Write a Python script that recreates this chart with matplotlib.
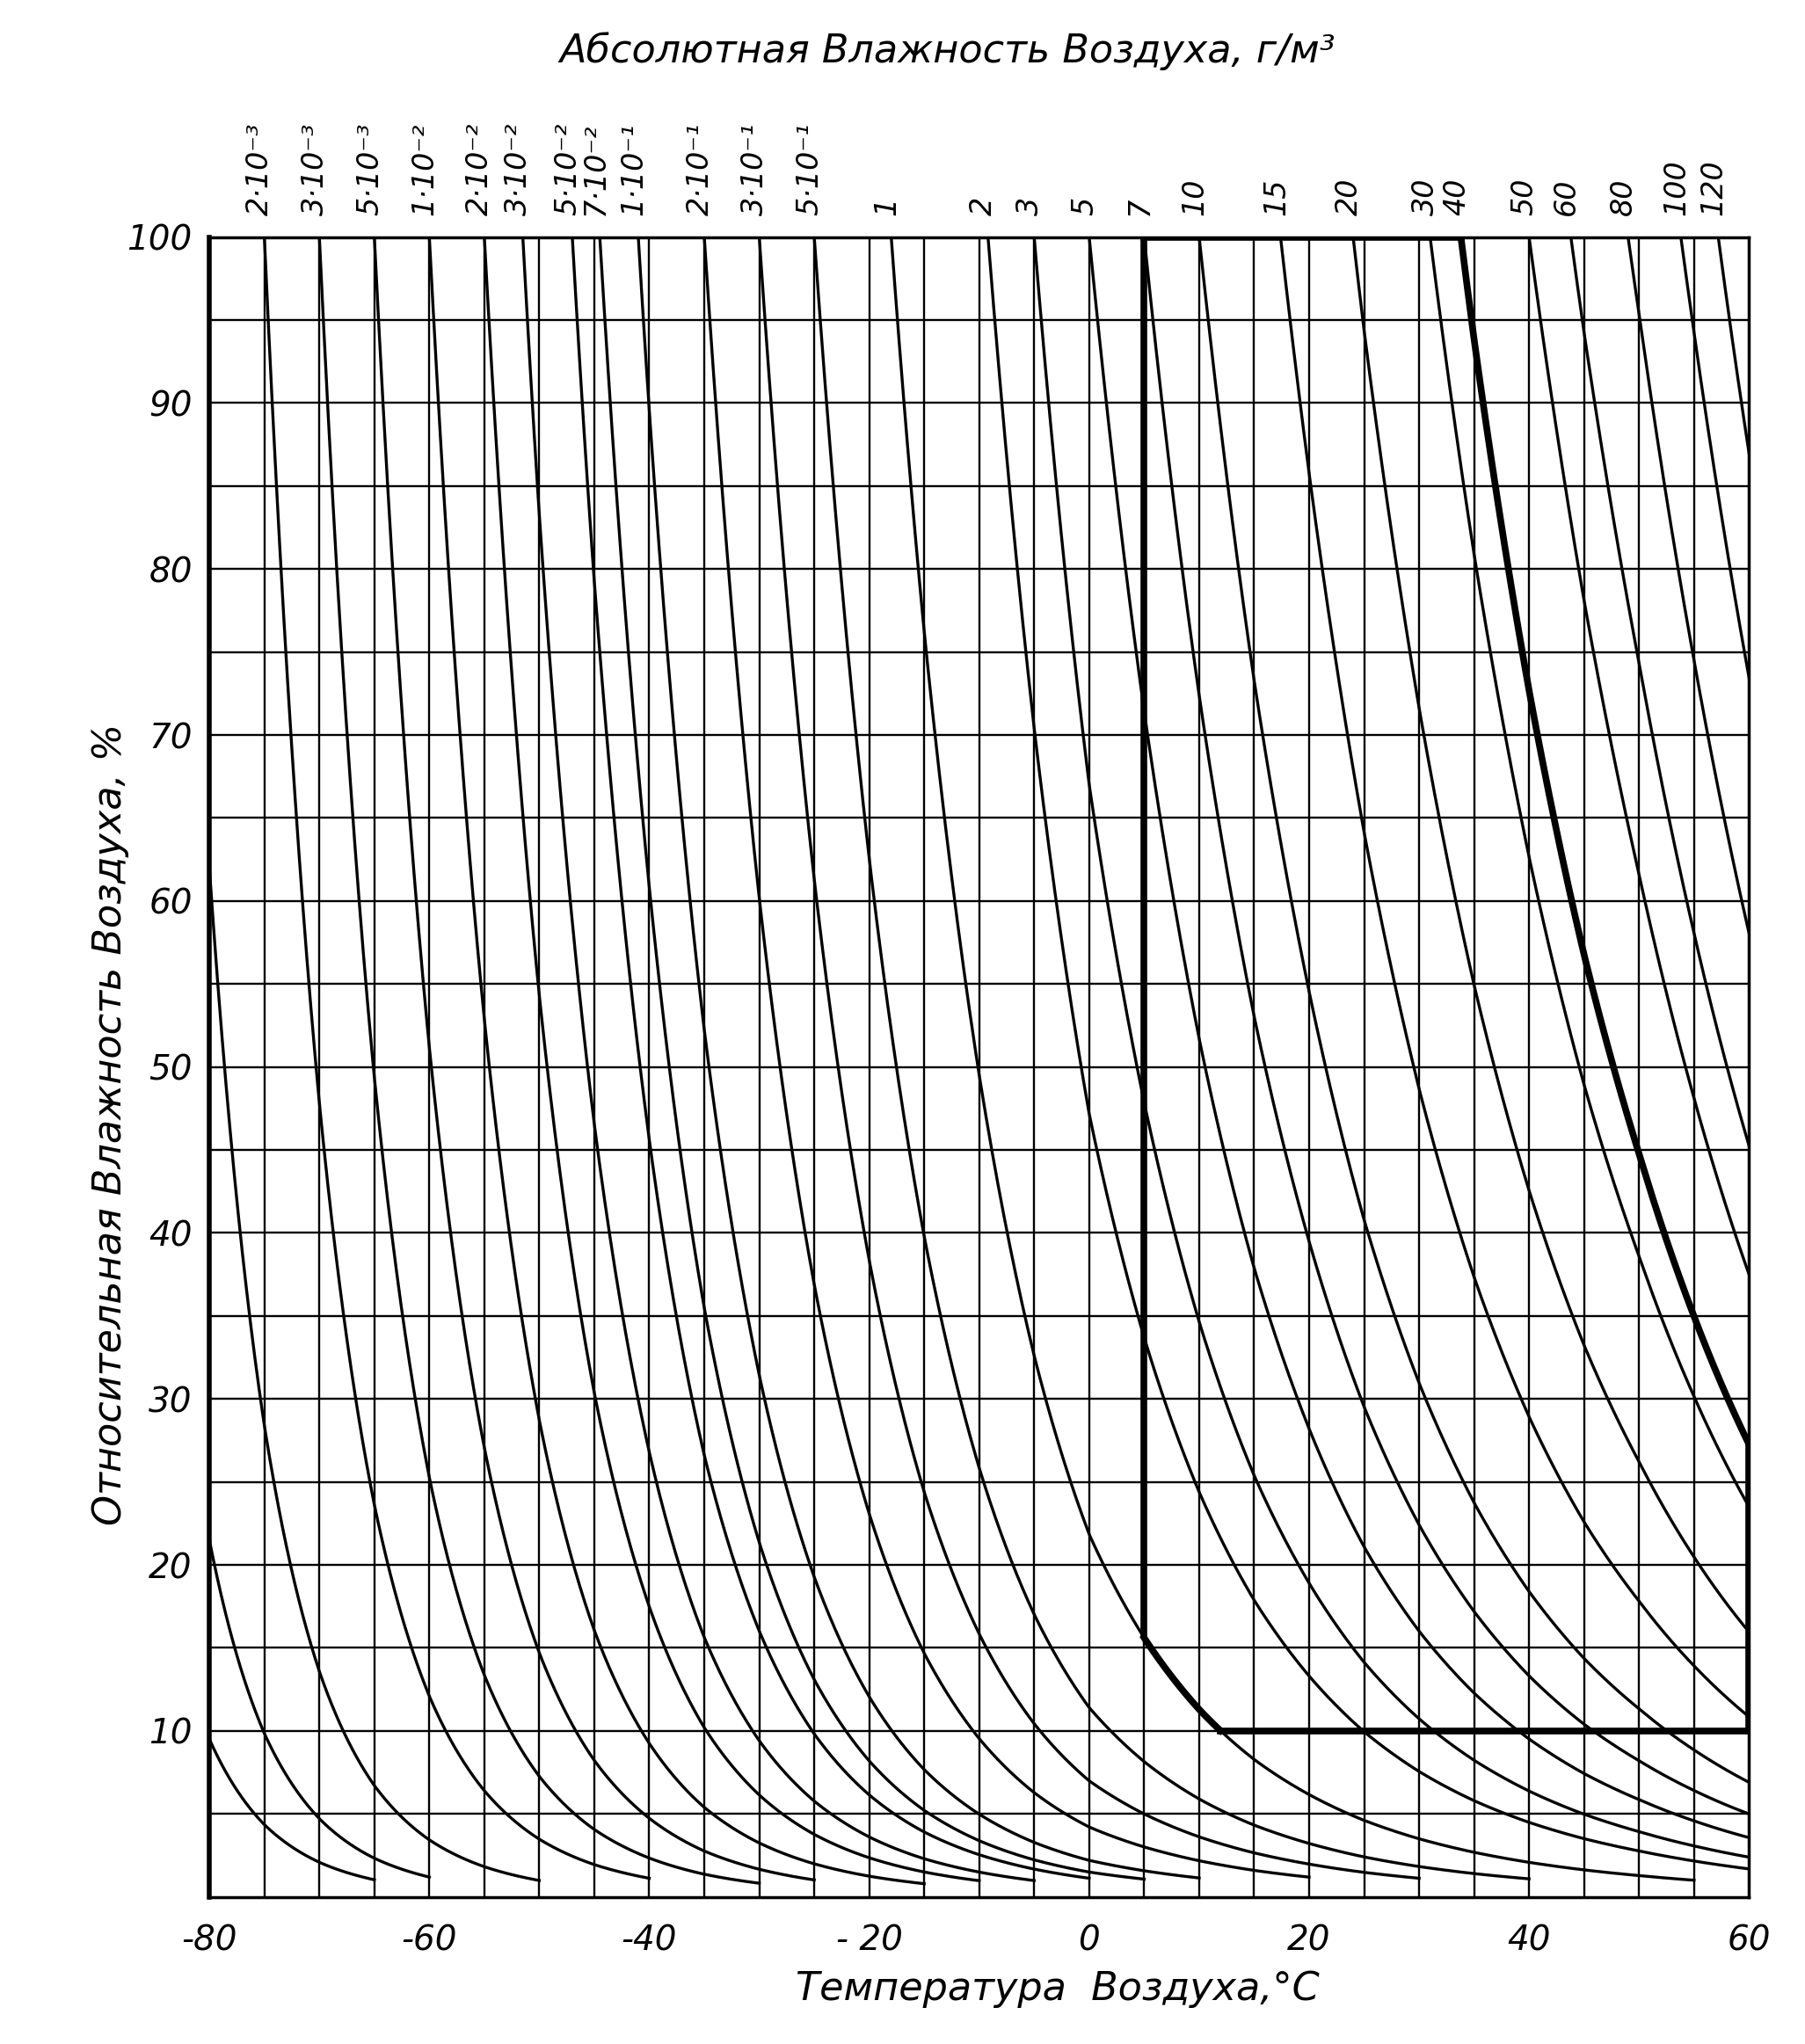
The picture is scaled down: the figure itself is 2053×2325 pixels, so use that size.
import numpy as np
import matplotlib.pyplot as plt

# saturation absolute humidity of air, g/m3, at every 5 C of the grid
sat_T = np.arange(-80, 61, 5)
sat_a = [6.09e-4, 1.33e-3, 2.78e-3, 5.63e-3, 1.10e-2, 2.08e-2, 3.83e-2, 6.85e-2,
         0.119, 0.204, 0.339, 0.553, 0.884, 1.39, 2.14, 3.25, 4.85,
         6.79, 9.38, 12.8, 17.2, 23.0, 30.3, 39.5, 51.0, 65.3, 82.8, 106.0, 136.0]

# curves of constant absolute humidity: label and temperature where they leave 100 %
hum_labels = ['2·10⁻³', '3·10⁻³', '5·10⁻³', '1·10⁻²', '2·10⁻²', '3·10⁻²', '5·10⁻²',
              '7·10⁻²', '1·10⁻¹', '2·10⁻¹', '3·10⁻¹', '5·10⁻¹', '1', '2', '3', '5',
              '7', '10', '15', '20', '30', '40', '50', '60', '80', '100', '120']
start_T = [-75, -70, -65, -60, -55, -51.5, -47, -44.5, -41, -35, -30, -25, -18,
           -9.2, -5, 0, 5, 10, 17.4, 24, 31, 33.8, 40, 43.8, 49, 53.8, 57.2]

# curves coming in through the left edge (relative humidity at -80 C)
left_RH = [62, 21.5, 9.5]

x_ticks = [-80, -60, -40, -20, 0, 20, 40, 60]
y_ticks = [10, 20, 30, 40, 50, 60, 70, 80, 90, 100]


def asat(t):
    return np.exp(np.interp(t, sat_T, np.log(sat_a)))


def curve(t0, rh0):
    grid = np.arange(-80, 61, 5)
    rh_grid = rh0 * asat(t0) / asat(grid)
    ends = grid[(grid > t0) & (rh_grid < 1.2)]
    t_end = ends[0] if len(ends) else 60
    t = np.linspace(t0, t_end, 400)
    return t, rh0 * asat(t0) / asat(t)


fig = plt.figure(figsize=(20.53, 23.25), dpi=100)
ax = fig.add_axes([0.116, 0.072, 0.853, 0.812])
ax.set_xlim(-80, 60)
ax.set_ylim(0, 100)

# grid
for x in np.arange(-75, 60, 5):
    ax.axvline(x, color='black', lw=1.7, zorder=1)
for y in np.arange(5, 100, 5):
    ax.axhline(y, color='black', lw=1.7, zorder=1)

# humidity curves
for t0 in start_T:
    t, rh = curve(t0, 100)
    ax.plot(t, rh, color='black', lw=2.4, zorder=2)
for r in left_RH:
    t, rh = curve(-80, r)
    ax.plot(t, rh, color='black', lw=2.4, zorder=2)

# bold working zone: between 1 and 40 g/m3, above 10 %, right of 5 C
lo = start_T[hum_labels.index('1')]
hi = start_T[hum_labels.index('40')]
rh_lo5 = 100 * asat(lo) / asat(5)
t = np.linspace(5, 60, 1000)
rh = 100 * asat(lo) / asat(t)
t_b = t[rh >= 10]
ax.plot([5, 5], [100, rh_lo5], color='black', lw=5.5, zorder=3, solid_capstyle='butt')
ax.plot(t_b, 100 * asat(lo) / asat(t_b), color='black', lw=5.5, zorder=3)
ax.plot([t_b[-1], 60], [10, 10], color='black', lw=5.5, zorder=3)
t = np.linspace(hi, 60, 400)
rh_hi = 100 * asat(hi) / asat(t)
ax.plot(t, rh_hi, color='black', lw=5.5, zorder=3)
ax.plot([60, 60], [10, rh_hi[-1]], color='black', lw=5.5, zorder=3)
ax.plot([5, hi], [100, 100], color='black', lw=5.5, zorder=3)

for side in ['left', 'bottom', 'top', 'right']:
    ax.spines[side].set_linewidth(2.5)
ax.spines['left'].set_linewidth(4)

ax.set_xticks(x_ticks)
ax.set_xticklabels(['-80', '-60', '-40', '- 20', '0', '20', '40', '60'])
ax.set_yticks(y_ticks)
ax.tick_params(length=0, labelsize=28, pad=14)
ax.tick_params(axis='x', pad=22)
for lab in ax.get_xticklabels() + ax.get_yticklabels():
    lab.set_style('italic')

for lab, t0 in zip(hum_labels, start_T):
    ax.text(t0 - 0.4, 101.3, lab, rotation=90, ha='center', va='bottom',
            fontsize=24, style='italic', clip_on=False)

fig.text(0.525, 0.975, 'Абсолютная Влажность Воздуха, г/м³', ha='center', va='center',
         fontsize=32, style='italic')
fig.text(0.586, 0.027, 'Температура  Воздуха,°С', ha='center', va='center',
         fontsize=32, style='italic')
fig.text(0.061, 0.45, 'Относительная Влажность Воздуха, %', ha='center', va='center',
         rotation=90, fontsize=32, style='italic')

fig.savefig('out.png', dpi=100)
